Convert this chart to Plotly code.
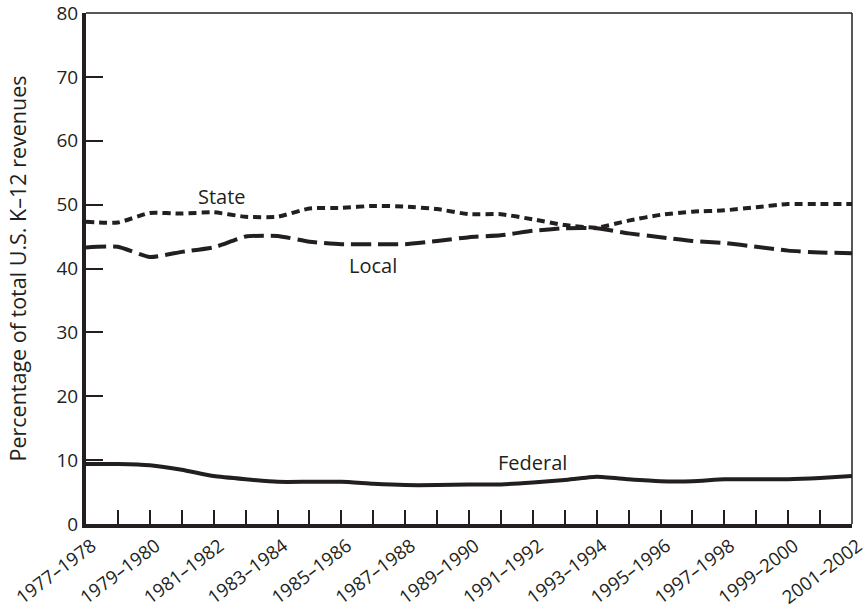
import plotly.graph_objects as go

years = ["1977–1978", "1978–1979", "1979–1980", "1980–1981", "1981–1982", "1982–1983",
         "1983–1984", "1984–1985", "1985–1986", "1986–1987", "1987–1988", "1988–1989",
         "1989–1990", "1990–1991", "1991–1992", "1992–1993", "1993–1994", "1994–1995",
         "1995–1996", "1996–1997", "1997–1998", "1998–1999", "1999–2000", "2000–2001",
         "2001–2002"]
tick_labels = [y if i % 2 == 0 else "" for i, y in enumerate(years)]

state = [47.3, 47.2, 48.7, 48.6, 48.8, 48.1, 48.1, 49.4, 49.5, 49.8, 49.7, 49.3, 48.5,
         48.5, 47.7, 46.8, 46.4, 47.5, 48.4, 48.9, 49.1, 49.6, 50.1, 50.1, 50.1]
local = [43.3, 43.4, 41.8, 42.6, 43.3, 45.0, 45.1, 44.2, 43.8, 43.8, 43.8, 44.3, 44.9,
         45.2, 45.9, 46.3, 46.3, 45.5, 44.9, 44.3, 44.0, 43.4, 42.8, 42.5, 42.4]
federal = [9.4, 9.4, 9.2, 8.5, 7.5, 7.0, 6.6, 6.6, 6.6, 6.3, 6.1, 6.1, 6.2, 6.2, 6.5,
           6.9, 7.4, 7.0, 6.7, 6.7, 7.0, 7.0, 7.0, 7.2, 7.5]

INK = "#231f20"
FONT = "Open Sans"

fig = go.Figure()
fig.add_trace(go.Scatter(x=years, y=state, mode="lines",
                         line=dict(color=INK, width=4, dash="8px,5px", shape="spline", smoothing=0.5)))
fig.add_trace(go.Scatter(x=years, y=local, mode="lines",
                         line=dict(color=INK, width=4, dash="20px,7px", shape="spline", smoothing=0.5)))
fig.add_trace(go.Scatter(x=years, y=federal, mode="lines",
                         line=dict(color=INK, width=4, shape="spline", smoothing=0.5)))

fig.add_annotation(x=years[4], y=51.3, text="State", showarrow=False,
                   font=dict(family=FONT, size=20, color=INK), xshift=8)
fig.add_annotation(x=years[9], y=40.5, text="Local", showarrow=False,
                   font=dict(family=FONT, size=20, color=INK))
fig.add_annotation(x=years[14], y=9.6, text="Federal", showarrow=False,
                   font=dict(family=FONT, size=20, color=INK))

fig.update_layout(
    width=867, height=615,
    margin=dict(l=86, r=15, t=13, b=91),
    paper_bgcolor="white", plot_bgcolor="white",
    showlegend=False,
    font=dict(family=FONT, size=19, color=INK),
    xaxis=dict(type="category", range=[0, 24], tickmode="array", tickvals=years,
               ticktext=tick_labels, tickangle=-37, ticks="inside", ticklen=14,
               tickwidth=1.5, tickcolor=INK, showline=True, linewidth=4, linecolor=INK,
               showgrid=False, zeroline=False, tickfont=dict(size=18.5), automargin=False,
               ticklabeloverflow="allow", ticklabelshift=6),
    yaxis=dict(range=[0, 80], tickvals=list(range(0, 81, 10)), ticks="inside",
               ticklen=17, tickwidth=1.5, tickcolor=INK, showline=True, linewidth=4,
               linecolor=INK, showgrid=False, zeroline=False, automargin=False,
               ticklabeloverflow="allow",
               title=dict(text="Percentage of total U.S. K–12 revenues", standoff=25,
                          font=dict(size=21.5)),
               tickfont=dict(size=19)),
)
fig.add_shape(type="line", xref="paper", yref="paper", x0=0, x1=1, y0=1, y1=1,
              line=dict(color=INK, width=1.5))
fig.add_shape(type="line", xref="paper", yref="paper", x0=1, x1=1, y0=0, y1=1,
              line=dict(color=INK, width=1.5))

fig.write_html("out.html", config={"displayModeBar": False},
               post_script="document.body.style.margin='0';")
